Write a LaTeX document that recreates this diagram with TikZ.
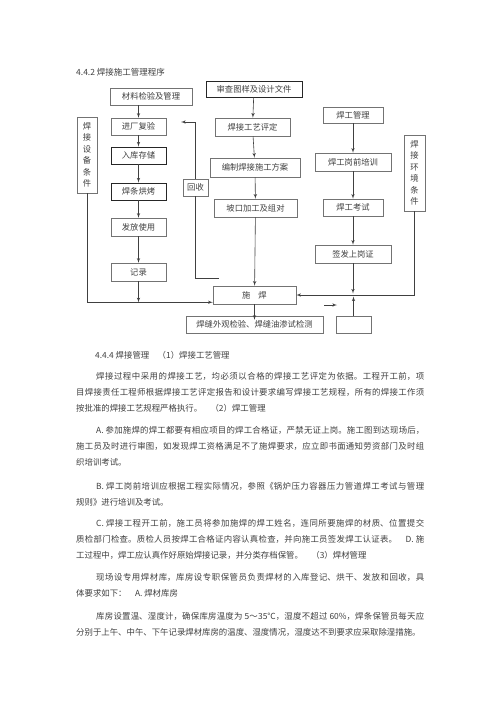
\documentclass[tikz,border=0pt]{standalone}
\usepackage{fontspec}
\setmainfont{Noto Sans CJK SC}
\usepackage{tikz}
\usetikzlibrary{shapes,arrows,positioning}
\XeTeXlinebreaklocale "zh"
\XeTeXlinebreakskip=0pt plus 2pt

\begin{document}
\begin{tikzpicture}[x=1pt, y=-1pt]
        \tikzstyle{block} = [rectangle, draw=black!55, line width=0.5pt, text=black!75, text centered, inner sep=0pt, font=\fontsize{8.3pt}{10pt}\selectfont]
        \tikzstyle{blockd} = [block, draw=black!85, line width=0.9pt]
        \tikzstyle{vblock} = [block, align=center, font=\fontsize{8.3pt}{11.5pt}\selectfont]
        \tikzstyle{line} = [draw, black!75, line width=0.6pt, -latex']
        \tikzstyle{plain} = [draw, black!75, line width=0.6pt]
        \tikzstyle{para} = [anchor=base west, inner sep=0pt, text width=348pt, align=justify, text=black!75, font=\fontsize{8.4pt}{15.8pt}\selectfont]

        \useasboundingbox [fill=white] (0,0) rectangle (500,707);

        \node [anchor=base west, inner sep=0pt, text=black!75, font=\fontsize{8.5pt}{10pt}\selectfont] (ttl) at (76,75.5) {4.4.2 焊接施工管理程序};

        % left column
        \node [block, minimum width=82pt, minimum height=17pt] (matl) at (151,96.5) {材料检验及管理};
        \node [block, minimum width=55pt, minimum height=17pt] (inchk) at (138.5,126.5) {进厂复验};
        \node [blockd, minimum width=55pt, minimum height=17pt] (store) at (138.5,155.5) {入库存储};
        \node [blockd, minimum width=55pt, minimum height=17pt] (bake) at (138.5,191.5) {焊条烘烤};
        \node [block, minimum width=55pt, minimum height=18pt] (issue) at (138.5,227) {发放使用};
        \node [block, minimum width=55pt, minimum height=18pt] (rec) at (138.5,272) {记录};
        \node [vblock, minimum width=20pt, minimum height=76pt] (equip) at (87,155) {焊\\接\\设\\备\\条\\件};

        % middle column
        \node [blockd, minimum width=96pt, minimum height=16pt] (review) at (254,89) {审查图样及设计文件};
        \node [block, minimum width=75pt, minimum height=18pt] (wps) at (252.5,127) {焊接工艺评定};
        \node [block, minimum width=90pt, minimum height=19pt] (plan) at (255,167.5) {编制焊接施工方案};
        \node [block, minimum width=83pt, minimum height=18pt] (groove) at (255.5,208) {坡口加工及组对};
        \node [block, minimum width=25pt, minimum height=17pt] (recl) at (195.5,187.5) {回收};
        \node [block, minimum width=83pt, minimum height=18pt] (weld) at (254.5,295) {施\hspace{8pt}焊};
        \node [block, minimum width=137pt, minimum height=17pt] (insp) at (254.5,324.5) {焊缝外观检验、焊缝油渗试检测};

        % right column
        \node [block, minimum width=60pt, minimum height=16pt] (wmgr) at (353,115) {焊工管理};
        \node [block, minimum width=76pt, minimum height=18pt] (train) at (353,162) {焊工岗前培训};
        \node [block, minimum width=60pt, minimum height=17pt] (exam) at (353,207.5) {焊工考试};
        \node [block, minimum width=76pt, minimum height=18pt] (cert) at (353,254) {签发上岗证};
        \node [block, minimum width=35pt, minimum height=17pt] (blank) at (353.5,324.5) {};
        \node [vblock, minimum width=21pt, minimum height=76pt] (env) at (414.5,173) {焊\\接\\环\\境\\条\\件};

        \coordinate (wl) at ([yshift=2pt]weld.south west);
        \coordinate (rtop) at (181,122);
        \coordinate (rbot) at (219,278);
        \coordinate (fa) at (324,305);
        \coordinate (fb) at (337,305);

        \path [line] (matl.south -| inchk.north) -- (inchk);
        \path [line] (inchk) -- (store);
        \path [line] (store) -- (bake);
        \path [line] (bake) -- (issue);
        \path [line] (issue) -- (rec);
        \path [line] (rec) -- (rec.south |- wl);
        \path [line] (equip) |- (wl);

        \path [line] (review) -- (wps);
        \path [line] (wps) -- (plan);
        \path [line] (plan) -- (groove);
        \path [line] (groove) -- (weld);
        \path [line] (weld) -- ([yshift=-4pt]insp.north);
        \path [line] (recl) |- (rtop);
        \path [plain] (rbot) -| (recl);

        \path [line] (wmgr) -- (train);
        \path [line] (train) -- (exam);
        \path [line] (exam) -- (cert);
        \path [line] (cert) -- ([yshift=1.5pt]cert.south |- weld.east);
        \path [line] (blank) -- ([yshift=-1.5pt]blank.north |- weld.east);
        \path [line] (env) |- (weld.east);
        \path [line] (fa) -- (fb);

        % text below the chart
        \node [anchor=base west, inner sep=0pt, text=black!75, font=\fontsize{8.4pt}{10pt}\selectfont] (sec) at (95,358.5) {4.4.4 焊接管理　（1）焊接工艺管理};
        \node [para] (p1) at (76,379.5) {\hspace*{20pt}焊接过程中采用的焊接工艺，均必须以合格的焊接工艺评定为依据。工程开工前，项\linebreak 目焊接责任工程师根据焊接工艺评定报告和设计要求编写焊接工艺规程，所有的焊接工作须\linebreak 按批准的焊接工艺规程严格执行。　（2）焊工管理};
        \node [para] (p2) at (76,433.5) {\hspace*{20pt}A. 参加施焊的焊工都要有相应项目的焊工合格证，严禁无证上岗。施工图到达现场后，\linebreak 施工员及时进行审图，如发现焊工资格满足不了施焊要求，应立即书面通知劳资部门及时组\linebreak 织培训考试。};
        \node [para] (p3) at (76,489.5) {\hspace*{20pt}B. 焊工岗前培训应根据工程实际情况，参照《锅炉压力容器压力管道焊工考试与管理\linebreak 规则》进行培训及考试。};
        \node [para] (p4) at (76,526.5) {\hspace*{20pt}C. 焊接工程开工前，施工员将参加施焊的焊工姓名，连同所要施焊的材质、位置提交\linebreak 质检部门检查。质检人员按焊工合格证内容认真检查，并向施工员签发焊工认证表。　D. 施\linebreak 工过程中，焊工应认真作好原始焊接记录，并分类存档保管。　（3）焊材管理};
        \node [para] (p5) at (76,580.5) {\hspace*{20pt}现场设专用焊材库，库房设专职保管员负责焊材的入库登记、烘干、发放和回收，具\linebreak 体要求如下：　A. 焊材库房};
        \node [para] (p6) at (76,619.5) {\hspace*{20pt}库房设置温、湿度计，确保库房温度为 5～35℃，湿度不超过 60\%，焊条保管员每天应\linebreak 分别于上午、中午、下午记录焊材库房的温度、湿度情况，湿度达不到要求应采取除湿措施。};
    \end{tikzpicture}
\end{document}
